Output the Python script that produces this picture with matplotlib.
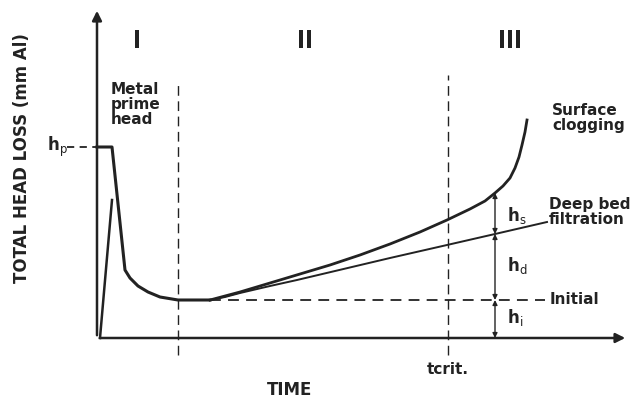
import matplotlib.pyplot as plt

# Curve data (time units, head-loss units)
prime_t = [0, 15, 15, 28, 33, 41, 51, 63, 81, 113]
prime_h = [191, 191, 191, 68, 60, 52, 46, 41, 38, 38]

rise_t = [3, 15]
rise_h = [0, 138]

surface_t = [113, 143, 173, 203, 233, 263, 293, 323, 350, 373, 388, 398,
             406, 413, 418, 422, 425, 428, 430]
surface_h = [38, 46, 55, 64, 73, 83, 94, 106, 118, 129, 137, 145,
             152, 160, 170, 181, 193, 206, 218]

deep_t = [113, 128, 143, 173, 200, 293, 350, 398, 450]
deep_h = [38, 41, 45, 52, 58, 80, 93, 104, 116]

h_prime = 191
h_initial = 38
t_phase1 = 81
t_crit = 351
t_marker = 398
h_deep_at_marker = 104
h_surf_at_marker = 145

phase_labels = ["I", "II", "III"]
phase_t = [40, 208, 413]

plt.rcParams['font.family'] = ['DejaVu Sans']

fig = plt.figure(figsize=(6.34, 4.01), dpi=100)
ax = fig.add_axes([0, 0, 1, 1])
ax.set_xlim(-97, 537)
ax.set_ylim(-63, 338)
ax.axis('off')

# axes with arrows
ax.annotate('', xy=(531, 0), xytext=(0, 0),
            arrowprops=dict(arrowstyle='-|>', lw=1.8, color='#222', mutation_scale=14))
ax.annotate('', xy=(0, 330), xytext=(0, 0),
            arrowprops=dict(arrowstyle='-|>', lw=1.8, color='#222', mutation_scale=14))

# curves
ax.plot(prime_t, prime_h, color='#222', lw=2.2, solid_joinstyle='round')
ax.plot(rise_t, rise_h, color='#222', lw=1.8)
ax.plot(surface_t, surface_h, color='#222', lw=2.0, solid_joinstyle='round')
ax.plot(deep_t, deep_h, color='#222', lw=1.4, solid_joinstyle='round')

# dashed guides
ax.plot([-30, 0], [h_prime, h_prime], color='#222', lw=1.3, ls=(0, (4, 3)))
ax.plot([113, 448], [h_initial, h_initial], color='#222', lw=1.3, ls=(0, (6, 4)))
ax.plot([t_phase1, t_phase1], [-17, 255], color='#222', lw=1.0, ls=(0, (7, 4)))
ax.plot([t_crit, t_crit], [-17, 263], color='#222', lw=1.0, ls=(0, (7, 4)))

# head-loss components
for lo, hi in [(0, h_initial), (h_initial, h_deep_at_marker), (h_deep_at_marker, h_surf_at_marker)]:
    ax.annotate('', xy=(t_marker, hi), xytext=(t_marker, lo),
                arrowprops=dict(arrowstyle='<|-|>', lw=1.0, color='#222',
                                mutation_scale=7, shrinkA=0, shrinkB=0))

fs = 11
txt = dict(color='#222', fontweight='bold')
ax.text(410, 122, r'h$_\mathsf{s}$', fontsize=fs + 1, va='center', **txt)
ax.text(410, 73, r'h$_\mathsf{d}$', fontsize=fs + 1, va='center', **txt)
ax.text(410, 20, r'h$_\mathsf{i}$', fontsize=fs + 1, va='center', **txt)
ax.text(-50, h_prime, r'h$_\mathsf{p}$', fontsize=fs + 1, va='center', **txt)

for lab, t in zip(phase_labels, phase_t):
    ax.text(t, 297, lab, fontsize=17, ha='center', va='center',
            fontstretch='condensed', **txt)

ax.text(14, 233, 'Metal\nprime\nhead', fontsize=fs, va='center', linespacing=1.0, **txt)
ax.text(455, 220, 'Surface\nclogging', fontsize=fs, va='center', linespacing=1.05, **txt)
ax.text(452, 126, 'Deep bed\nfiltration', fontsize=fs, va='center', linespacing=1.05, **txt)
ax.text(453, h_initial, 'Initial', fontsize=fs, va='center', **txt)
ax.text(t_crit, -31, 'tcrit.', fontsize=fs, ha='center', va='center', **txt)
ax.text(193, -52, 'TIME', fontsize=12, ha='center', va='center', **txt)
ax.text(-75, 180, 'TOTAL HEAD LOSS (mm Al)', fontsize=12, rotation=90,
        ha='center', va='center', **txt)

fig.savefig('out.png', dpi=100)
